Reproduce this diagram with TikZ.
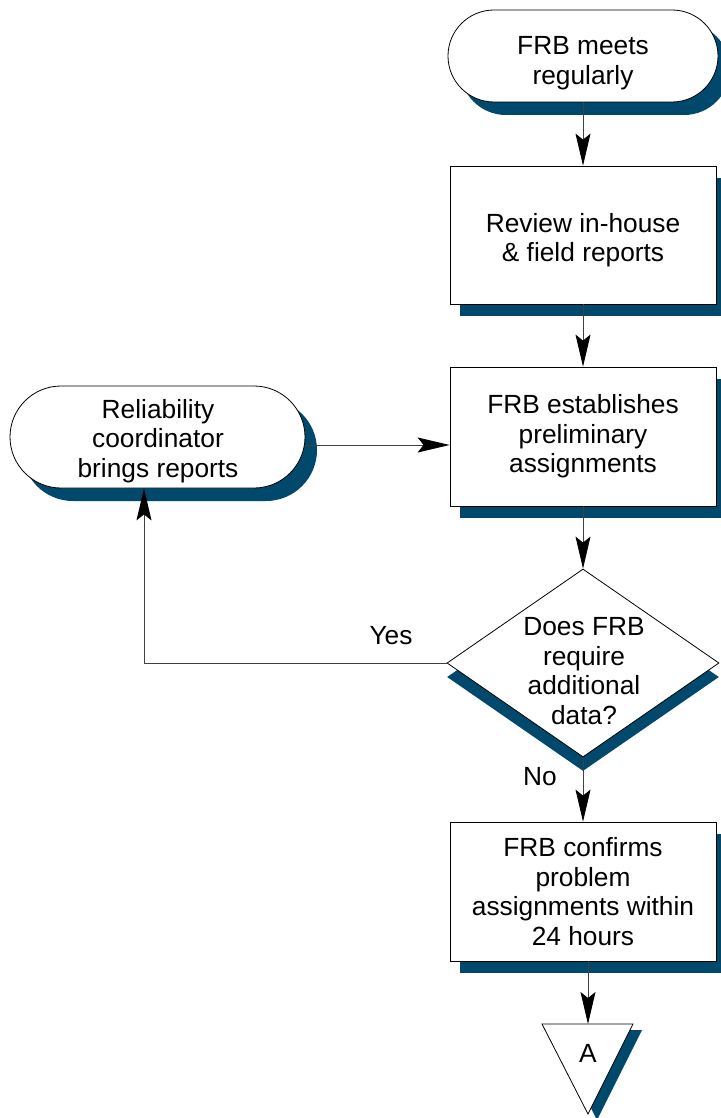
\documentclass[tikz,border=0pt]{standalone}
\usepackage{fontspec}
\setmainfont{Liberation Sans}
\usetikzlibrary{shapes.geometric,shapes.misc,shadows,arrows.meta}
\definecolor{shadowblue}{RGB}{0,72,108}
\begin{document}
\begin{tikzpicture}[x=1pt,y=-1pt,
  font=\fontsize{26.3}{29.5}\selectfont,
  outl/.style={draw=black, line width=0.8pt, fill=white},
  boxsh/.style={drop shadow={shadow xshift=10pt, shadow yshift=-12pt, fill=shadowblue, opacity=1}},
  stepbox/.style={outl, boxsh, rectangle, minimum width=266pt, minimum height=139pt, inner sep=0pt, align=center},
  term/.style={outl, rounded rectangle, inner sep=0pt, align=center,
    drop shadow={shadow xshift=12pt, shadow yshift=-13pt, fill=shadowblue, opacity=1}},
  decision/.style={outl, diamond, minimum width=272pt, minimum height=188pt, inner sep=0pt,
    drop shadow={shadow xshift=0pt, shadow yshift=-14pt, fill=shadowblue, opacity=1}},
  txt/.style={align=center, inner sep=0pt},
  arr/.style={draw=black!75, line width=0.8pt, -{Stealth[length=32pt,width=15pt,inset=6pt,color=black]}},
  lbl/.style={inner sep=0pt}]
\useasboundingbox (0,0) rectangle (720,1118);

\node[term, minimum width=270pt, minimum height=92pt] (t1) at (583,56) {};
\node[txt] (t1t) at (583,63) {FRB meets\\regularly};
\node[stepbox, minimum height=138pt] (b2) at (583,235) {};
\node[txt] (b2t) at (583,240) {Review in-house\\\& field reports};
\node[stepbox] (b3) at (583,436.5) {FRB establishes\\preliminary\\assignments};
\node[term, minimum width=295pt, minimum height=102pt] (t6) at (157.5,437) {};
\node[txt] (t6t) at (158,441) {Reliability\\coordinator\\brings reports};
\node[decision] (d4) at (583,663) {};
\node[txt] (d4t) at (584,671) {Does FRB\\require\\additional\\data?};
\node[stepbox] (b5) at (583,891.5) {FRB confirms\\problem\\assignments within\\24 hours};

\path[outl, drop shadow={shadow xshift=9pt, shadow yshift=-6pt, fill=shadowblue, opacity=1}]
  (542,1024) -- (633,1024) -- (588,1114) -- cycle;
\coordinate (tritop) at (588,1024);
\node[inner sep=0pt] (conA) at (588,1053) {A};

\draw[arr] (t1) -- (b2);
\draw[arr] (b2) -- (b3);
\draw[arr] (b3) -- (d4);
\draw[arr] ([yshift=-8pt]t6.east) -- ([yshift=-8pt]t6.east -| b3.west);
\draw[arr] (d4.west) -| ([xshift=-13.5pt]t6.south);
\draw[arr] (d4) -- (b5);
\draw[arr] (b5.south -| tritop) -- (tritop);

\node[lbl] (yes) at (391,636) {Yes};
\node[lbl] (no) at (540,777) {No};
\end{tikzpicture}
\end{document}
